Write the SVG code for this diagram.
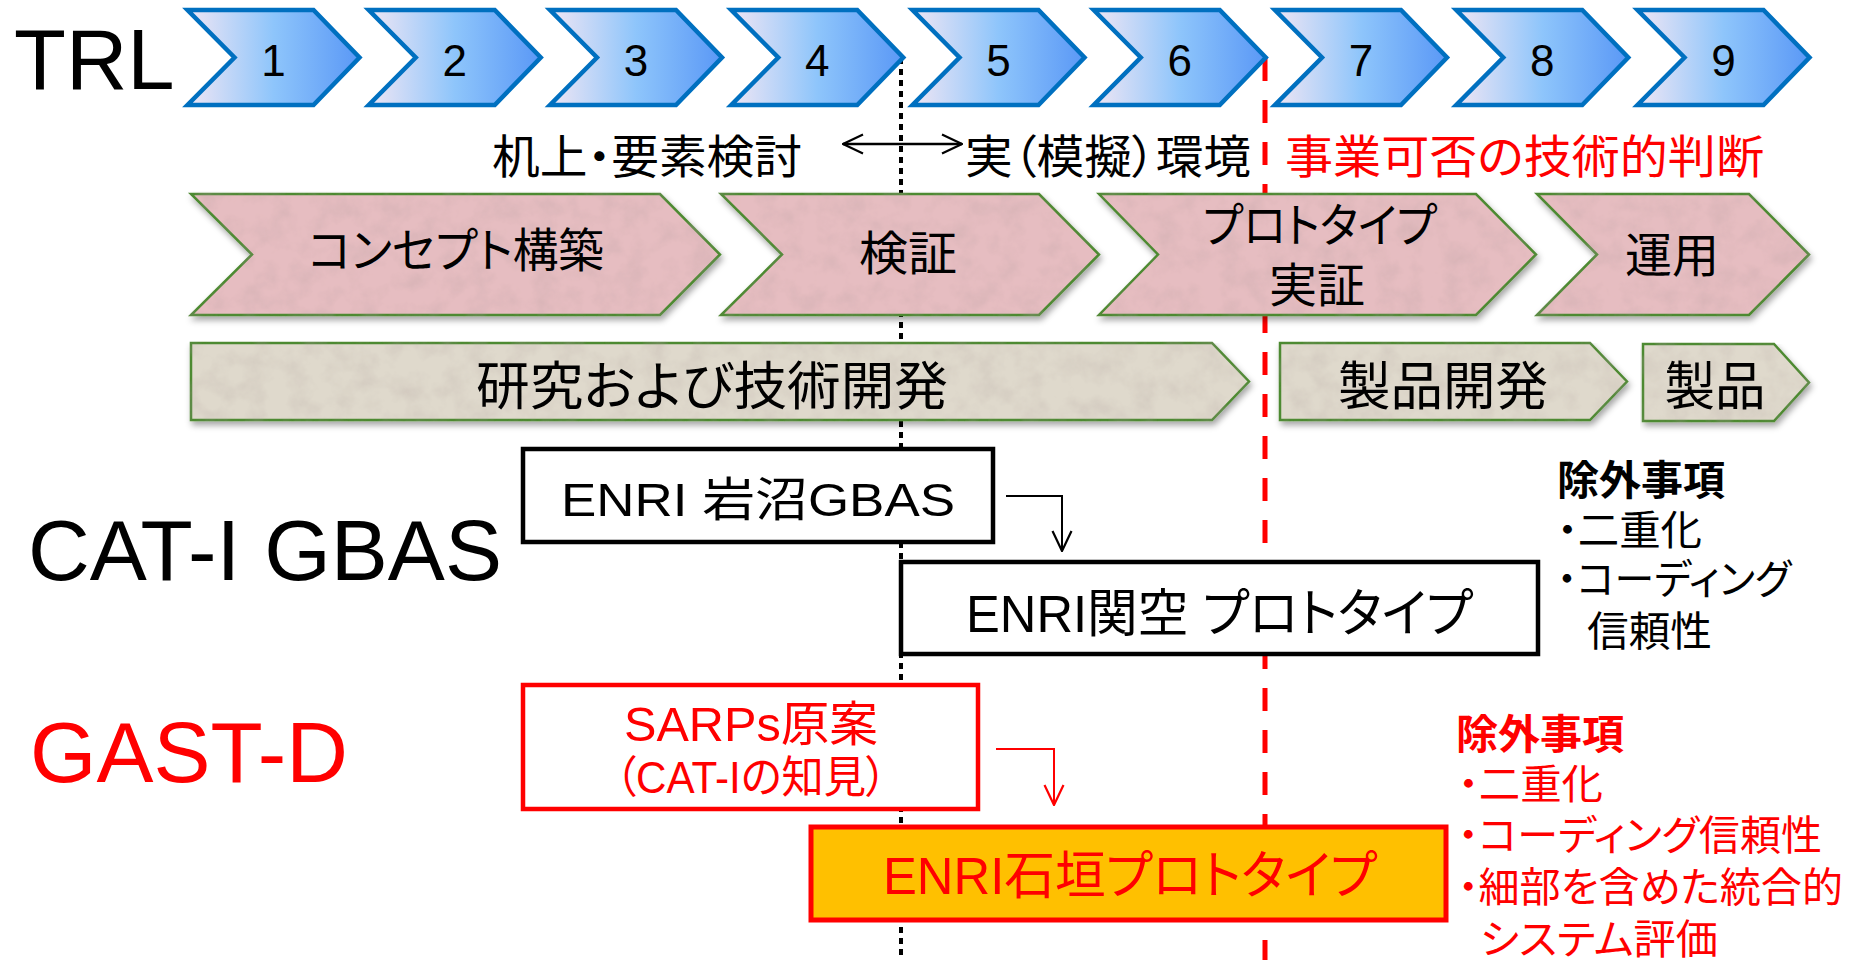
<svg xmlns="http://www.w3.org/2000/svg" xmlns:xlink="http://www.w3.org/1999/xlink" width="1849" height="960" viewBox="0 0 1849 960">
<style>
  text { font-family: "Liberation Sans", "Noto Sans CJK JP", sans-serif; font-feature-settings: "palt" 1; }
  .blk { fill: #000; }
  .red { fill: #FF0000; }
  .bold { font-weight: bold; }
  .chev { fill: url(#gBlue); stroke: #0070C0; stroke-width: 4.5; stroke-linejoin: miter; }
  .pink { fill: #E6BDC1; stroke: #4E8A32; stroke-width: 2.5; }
  .beige { fill: #DFD9CC; stroke: #4E8A32; stroke-width: 2.5; }
  .num { font-size: 44px; text-anchor: middle; }
  .stage { font-size: 47px; }
  .dev { font-size: 52px; }
  .row { font-size: 46px; }
  .big { font-size: 85px; }
  .list { font-size: 41px; }
  .conn { fill: none; }
</style>
<defs>
  <linearGradient id="gBlue" x1="0" y1="0" x2="1" y2="0">
    <stop offset="0" stop-color="#F0E6F4"/>
    <stop offset="0.5" stop-color="#8EC5FB"/>
    <stop offset="1" stop-color="#5A98F6"/>
  </linearGradient>
  <polygon id="chevShape" points="0,10 126,10 172,57.5 126,105 0,105 47,57.5"/>
  <filter id="paper" x="-3%" y="-5%" width="108%" height="125%">
    <feTurbulence type="fractalNoise" baseFrequency="0.045" numOctaves="4" seed="11" result="noise"/>
    <feColorMatrix in="noise" type="matrix" values="0 0 0 0 0.4  0 0 0 0 0.3  0 0 0 0 0.3  0.45 0 0 0 -0.18" result="spots"/>
    <feComposite in="spots" in2="SourceAlpha" operator="in" result="spotsIn"/>
    <feGaussianBlur in="SourceAlpha" stdDeviation="3" result="blur"/>
    <feOffset in="blur" dx="2" dy="4" result="off"/>
    <feFlood flood-color="#000" flood-opacity="0.35"/>
    <feComposite in2="off" operator="in" result="shadow"/>
    <feMerge>
      <feMergeNode in="shadow"/>
      <feMergeNode in="SourceGraphic"/>
      <feMergeNode in="spotsIn"/>
    </feMerge>
  </filter>
  <marker id="ahBlack" viewBox="0 0 22 22" refX="21" refY="11" markerWidth="22" markerHeight="22" markerUnits="userSpaceOnUse" orient="auto-start-reverse">
    <path d="M1,1.5 L21,11 L1,20.5" fill="none" stroke="#000" stroke-width="2.2"/>
  </marker>
  <marker id="ahRed" viewBox="0 0 22 22" refX="21" refY="11" markerWidth="22" markerHeight="22" markerUnits="userSpaceOnUse" orient="auto-start-reverse">
    <path d="M1,1.5 L21,11 L1,20.5" fill="none" stroke="#FF0000" stroke-width="2.2"/>
  </marker>
</defs>

<rect x="0" y="0" width="1849" height="960" fill="#FFFFFF"/>

<!-- connectors / guide lines -->
<g id="connectors" class="conn">
  <line id="line-trl4" x1="901" y1="58" x2="901" y2="960" stroke="#000" stroke-width="4" stroke-dasharray="6 5"/>
  <line id="line-trl6" x1="1265" y1="58" x2="1265" y2="960" stroke="#FF0000" stroke-width="5" stroke-dasharray="23 19"/>
  <line id="arrow-env" x1="843" y1="144" x2="962" y2="144" stroke="#000" stroke-width="2.5" marker-start="url(#ahBlack)" marker-end="url(#ahBlack)"/>
  <path id="arrow-cat1" d="M1006,496 H1062 V551" stroke="#000" stroke-width="2" marker-end="url(#ahBlack)"/>
  <path id="arrow-gastd" d="M996,749 H1054 V805" stroke="#FF0000" stroke-width="2" marker-end="url(#ahRed)"/>
</g>

<!-- TRL label -->
<g id="label-trl"><text class="big blk" x="14" y="89">TRL</text></g>

<!-- TRL chevrons -->
<g id="trl-1"><use xlink:href="#chevShape" class="chev" x="187.5"/><text class="num blk" x="273.5" y="76">1</text></g>
<g id="trl-2"><use xlink:href="#chevShape" class="chev" x="368.75"/><text class="num blk" x="454.75" y="76">2</text></g>
<g id="trl-3"><use xlink:href="#chevShape" class="chev" x="550"/><text class="num blk" x="636" y="76">3</text></g>
<g id="trl-4"><use xlink:href="#chevShape" class="chev" x="731.25"/><text class="num blk" x="817.25" y="76">4</text></g>
<g id="trl-5"><use xlink:href="#chevShape" class="chev" x="912.5"/><text class="num blk" x="998.5" y="76">5</text></g>
<g id="trl-6"><use xlink:href="#chevShape" class="chev" x="1093.75"/><text class="num blk" x="1179.75" y="76">6</text></g>
<g id="trl-7"><use xlink:href="#chevShape" class="chev" x="1275"/><text class="num blk" x="1361" y="76">7</text></g>
<g id="trl-8"><use xlink:href="#chevShape" class="chev" x="1456.25"/><text class="num blk" x="1542.25" y="76">8</text></g>
<g id="trl-9"><use xlink:href="#chevShape" class="chev" x="1637.5"/><text class="num blk" x="1723.5" y="76">9</text></g>

<!-- environment row -->
<g id="label-desk"><text class="row blk" x="492" y="173" textLength="310" lengthAdjust="spacingAndGlyphs">机上・要素検討</text></g>
<g id="label-real"><text class="row blk" x="965" y="173" textLength="286" lengthAdjust="spacingAndGlyphs">実（模擬）環境</text></g>
<g id="label-judge"><text class="row red" x="1285" y="173" textLength="479" lengthAdjust="spacingAndGlyphs">事業可否の技術的判断</text></g>

<!-- stage chevrons -->
<g id="stage-concept">
  <polygon class="pink" filter="url(#paper)" points="191,194 660,194 720,254.5 660,315 191,315 252,254.5"/>
  <text class="stage blk" x="456" y="267" text-anchor="middle" textLength="296" lengthAdjust="spacingAndGlyphs">コンセプト構築</text>
</g>
<g id="stage-verify">
  <polygon class="pink" filter="url(#paper)" points="721,194 1039,194 1099,254.5 1039,315 721,315 782,254.5"/>
  <text class="stage blk" x="908" y="270" text-anchor="middle" textLength="98" lengthAdjust="spacingAndGlyphs">検証</text>
</g>
<g id="stage-proto">
  <polygon class="pink" filter="url(#paper)" points="1099,194 1476,194 1536,254.5 1476,315 1099,315 1158,254.5"/>
  <text class="stage blk" x="1320" y="242" text-anchor="middle" textLength="234" lengthAdjust="spacingAndGlyphs">プロトタイプ</text>
  <text class="stage blk" x="1317" y="302" text-anchor="middle" textLength="96" lengthAdjust="spacingAndGlyphs">実証</text>
</g>
<g id="stage-ops">
  <polygon class="pink" filter="url(#paper)" points="1537,194 1749,194 1809,254.5 1749,315 1537,315 1597,254.5"/>
  <text class="stage blk" x="1672" y="272" text-anchor="middle" textLength="94" lengthAdjust="spacingAndGlyphs">運用</text>
</g>

<!-- development arrows -->
<g id="dev-research">
  <polygon class="beige" filter="url(#paper)" points="191,343 1212,343 1249,381.5 1212,420 191,420"/>
  <text class="dev blk" x="712" y="405" text-anchor="middle" textLength="472" lengthAdjust="spacingAndGlyphs">研究および技術開発</text>
</g>
<g id="dev-product">
  <polygon class="beige" filter="url(#paper)" points="1280,343 1590,343 1627,381.5 1590,420 1280,420"/>
  <text class="dev blk" x="1443" y="405" text-anchor="middle" textLength="210" lengthAdjust="spacingAndGlyphs">製品開発</text>
</g>
<g id="dev-item">
  <polygon class="beige" filter="url(#paper)" points="1643,344 1774,344 1809,382.5 1774,421 1643,421"/>
  <text class="dev blk" x="1715" y="405" text-anchor="middle" textLength="101" lengthAdjust="spacingAndGlyphs">製品</text>
</g>

<!-- CAT-I GBAS -->
<g id="label-cat1"><text class="big blk" x="28" y="580" textLength="474" lengthAdjust="spacingAndGlyphs">CAT-I GBAS</text></g>
<g id="box-iwanuma">
  <rect x="523" y="449" width="470" height="93" fill="#FFFFFF" stroke="#000" stroke-width="4.5"/>
  <text class="blk" font-size="47" x="758" y="516" text-anchor="middle" textLength="394" lengthAdjust="spacingAndGlyphs">ENRI 岩沼GBAS</text>
</g>
<g id="box-kansai">
  <rect x="901" y="562" width="637" height="92" fill="#FFFFFF" stroke="#000" stroke-width="4.5"/>
  <text class="blk" font-size="52" x="1219.5" y="632" text-anchor="middle" textLength="507" lengthAdjust="spacingAndGlyphs">ENRI関空 プロトタイプ</text>
</g>
<g id="note-cat1">
  <text class="list blk bold" x="1557" y="495" textLength="168" lengthAdjust="spacingAndGlyphs">除外事項</text>
  <text class="list blk" x="1557" y="545" textLength="145" lengthAdjust="spacingAndGlyphs">・二重化</text>
  <text class="list blk" x="1557" y="594" textLength="234" lengthAdjust="spacingAndGlyphs">・コーディング</text>
  <text class="list blk" x="1587" y="646" textLength="125" lengthAdjust="spacingAndGlyphs">信頼性</text>
</g>

<!-- GAST-D -->
<g id="label-gastd"><text class="big red" x="30" y="782" textLength="318" lengthAdjust="spacingAndGlyphs">GAST-D</text></g>
<g id="box-sarps">
  <rect x="523" y="685" width="455" height="124" fill="#FFFFFF" stroke="#FF0000" stroke-width="4.5"/>
  <text class="red" font-size="48" x="751" y="741" text-anchor="middle" textLength="254" lengthAdjust="spacingAndGlyphs">SARPs原案</text>
  <text class="red" font-size="44" x="751" y="793" text-anchor="middle" textLength="272" lengthAdjust="spacingAndGlyphs">（CAT-Iの知見）</text>
</g>
<g id="box-ishigaki">
  <rect x="811" y="827" width="635" height="93" fill="#FFC000" stroke="#FF0000" stroke-width="5"/>
  <text class="red" font-size="52" x="1130" y="894" text-anchor="middle" textLength="494" lengthAdjust="spacingAndGlyphs">ENRI石垣プロトタイプ</text>
</g>
<g id="note-gastd">
  <text class="list red bold" x="1456" y="749" textLength="168" lengthAdjust="spacingAndGlyphs">除外事項</text>
  <text class="list red" x="1458" y="799" textLength="145" lengthAdjust="spacingAndGlyphs">・二重化</text>
  <text class="list red" x="1458" y="850" textLength="364" lengthAdjust="spacingAndGlyphs">・コーディング信頼性</text>
  <text class="list red" x="1458" y="902" textLength="385" lengthAdjust="spacingAndGlyphs">・細部を含めた統合的</text>
  <text class="list red" x="1480" y="954" textLength="238" lengthAdjust="spacingAndGlyphs">システム評価</text>
</g>
</svg>
